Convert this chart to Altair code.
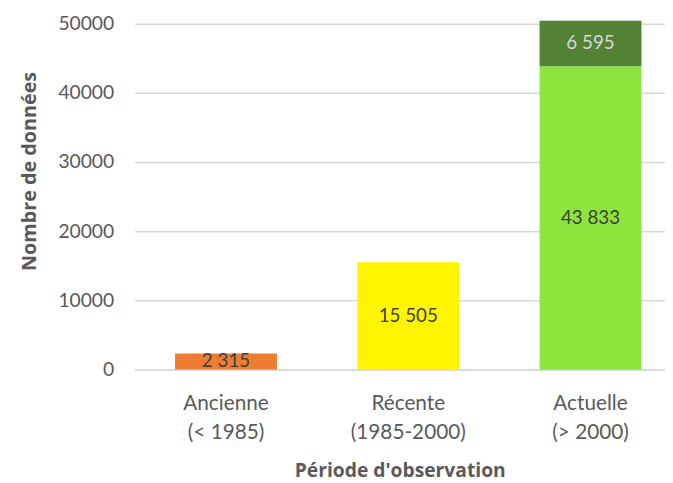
import altair as alt
import pandas as pd

categories = ["Ancienne\n(< 1985)", "Récente\n(1985-2000)", "Actuelle\n(> 2000)", "Actuelle\n(> 2000)"]
segments = ["Ancienne", "Récente", "Actuelle", "Actuelle (sup.)"]
values = [2315, 15505, 43833, 6595]
seg_order = [0, 0, 0, 1]
seg_colors = ["#ED7D31", "#FFF500", "#8DE43C", "#548235"]
label_colors = ["#404040", "#404040", "#404040", "#D9D9D9"]
y_ticks = [0, 10000, 20000, 30000, 40000, 50000]
cat_domain = ["Ancienne\n(< 1985)", "Récente\n(1985-2000)", "Actuelle\n(> 2000)"]

df = pd.DataFrame({
    "cat": categories,
    "seg": segments,
    "value": values,
    "ord": seg_order,
    "lcol": label_colors,
    "label": [f"{v:,}".replace(",", "\u00a0") for v in values],
})

FONT = "Lato"
TFONT = "Open Sans"
x = alt.X("cat:N", sort=cat_domain,
          scale=alt.Scale(domain=cat_domain, paddingInner=0.441, paddingOuter=0.176, align=0.633),
          axis=alt.Axis(title="Période d'observation", labelExpr="split(datum.label, '\\n')",
                        labelAngle=0, labelFont=FONT, labelFontSize=21, labelColor="#595959",
                        labelLineHeight=29, labelPadding=24, ticks=False, domain=True,
                        domainColor="#D9D9D9", domainWidth=1.5,
                        titleFont=TFONT, titleFontSize=19.5, titleFontWeight="bold",
                        titleColor="#595959", titlePadding=19))

base = alt.Chart(df).transform_stack(
    stack="value", groupby=["cat"], as_=["y0", "y1"], sort=[alt.SortField("ord", order="ascending")]
).transform_calculate(ymid="(datum.y0 + datum.y1) / 2")

bars = base.mark_bar(clip=False).encode(
    x=x,
    y=alt.Y("y0:Q", scale=alt.Scale(domain=[0, 50000], nice=False),
            axis=alt.Axis(title="Nombre de données", values=y_ticks, format="d",
                          labelFont=FONT, labelFontSize=19.5, labelColor="#595959",
                          labelPadding=21, ticks=False, domain=False,
                          gridColor="#D9D9D9", gridWidth=1.5,
                          titleFont=TFONT, titleFontSize=20, titleFontWeight="bold",
                          titleColor="#595959", titleX=-106, titleY=149,
                          titleAngle=270, titleBaseline="middle", titleAlign="center")),
    y2="y1:Q",
    color=alt.Color("seg:N", scale=alt.Scale(domain=segments, range=seg_colors), legend=None),
)

texts = base.mark_text(font=FONT, fontSize=19, baseline="middle", align="center").encode(
    x=alt.X("cat:N", sort=cat_domain),
    y=alt.Y("ymid:Q"),
    text="label:N",
    color=alt.Color("lcol:N", scale=None),
)

chart = (bars + texts).properties(
    width=537, height=350,
    autosize=alt.AutoSizeParams(type="none"),
    padding={"left": 128, "top": 13, "right": 0, "bottom": 112},
).configure_view(stroke=None)

chart.save("out.html", embed_options={"renderer": "svg", "actions": False})
